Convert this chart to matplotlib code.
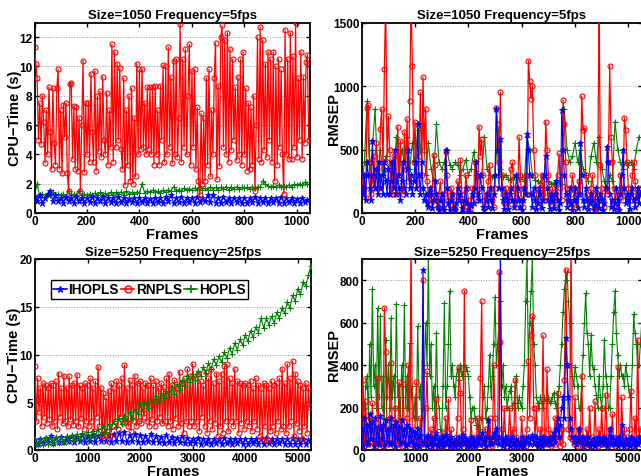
import numpy as np
import matplotlib
matplotlib.use("Agg")
import matplotlib.pyplot as plt
from matplotlib.lines import Line2D

plt.rcParams["font.family"] = ["Liberation Sans", "DejaVu Sans"]
plt.rcParams["font.weight"] = "bold"
plt.rcParams["axes.labelweight"] = "bold"
plt.rcParams["axes.titleweight"] = "bold"

BLUE = (0, 0, 1)
RED = (1, 0, 0)
GREEN = (0, 0.5, 0)

# -----------------------------
# Size=1050, 5fps : CPU time (s)
# -----------------------------
TL_STEP_RED = 5
TL_STEP = 10
tl_rnpls = [
    11.3, 10.2, 9.2, 5.0, 7.5, 4.7, 8.0, 6.2, 3.4, 7.0,
    4.0, 8.6, 5.5, 3.0, 8.5, 4.8, 3.3, 8.5, 9.8, 3.0,
    7.0, 2.7, 7.4, 5.2, 7.5, 2.7, 1.5, 8.8, 8.9, 3.7,
    7.3, 3.0, 7.2, 2.9, 6.5, 1.5, 6.0, 10.4, 2.8, 7.5,
    4.0, 7.5, 3.5, 9.5, 5.5, 3.5, 9.7, 2.9, 8.0, 4.2,
    8.3, 3.8, 9.3, 5.0, 4.0, 8.2, 3.3, 7.0, 4.5, 11.5,
    3.5, 11.0, 4.5, 10.2, 5.0, 9.9, 4.4, 3.0, 9.2, 1.9,
    7.0, 3.3, 8.0, 2.2, 8.5, 2.0, 6.5, 2.5, 10.2, 4.0,
    9.8, 4.4, 9.8, 4.5, 7.5, 4.0, 8.6, 4.4, 8.6, 4.0,
    8.6, 3.3, 8.7, 4.0, 7.0, 3.3, 8.7, 5.0, 10.1, 3.5,
    10.0, 4.0, 11.3, 4.5, 9.3, 3.4, 10.4, 4.0, 10.5, 3.8,
    6.5, 12.9, 3.5, 10.5, 4.5, 11.2, 4.0, 8.0, 11.5, 3.3,
    9.7, 4.5, 9.8, 3.0, 7.2, 2.2, 1.2, 6.8, 2.0, 6.5,
    2.2, 9.2, 3.3, 9.8, 2.5, 7.0, 4.0, 9.2, 11.6, 2.3,
    8.7, 3.2, 12.0, 12.8, 4.5, 11.8, 4.0, 12.3, 3.5, 11.2,
    4.3, 10.5, 5.0, 8.6, 3.6, 9.3, 4.0, 10.5, 3.3, 11.0,
    4.0, 8.5, 2.9, 7.5, 3.0, 7.2, 3.3, 8.0, 1.5, 6.0,
    12.0, 3.7, 12.7, 3.5, 11.8, 4.3, 10.2, 3.8, 11.0, 5.0,
    10.5, 3.5, 11.0, 2.2, 10.0, 3.3, 10.5, 4.5, 9.8, 4.0,
    1.3, 12.5, 4.0, 10.5, 3.7, 12.3, 3.7, 10.7, 4.5, 13.0,
    3.8, 9.2, 5.0, 11.0, 3.7, 9.3, 4.8, 10.3, 10.8, 5.0,
]
tl_ihopls = [
    1.1, 0.8, 1.2, 0.7, 1.0, 1.3, 1.5, 0.8, 1.2, 0.8,
    1.0, 0.7, 1.1, 0.8, 1.0, 0.7, 1.1, 0.8, 1.0, 0.7,
    1.0, 0.75, 1.1, 0.7, 1.0, 0.8, 1.1, 0.7, 1.0, 0.75,
    1.0, 0.7, 1.1, 0.75, 1.0, 0.7, 0.95, 0.75, 1.0, 0.7,
    1.0, 0.75, 1.05, 0.7, 0.95, 0.7, 1.0, 0.75, 1.0, 0.7,
    1.1, 0.8, 1.2, 0.7, 1.0, 0.75, 1.1, 0.7, 1.05, 0.75,
    1.0, 0.7, 1.1, 0.75, 1.0, 0.8, 1.2, 0.75, 1.25, 0.7,
    1.0, 0.7, 1.1, 0.75, 1.0, 0.7, 1.05, 0.75, 1.0, 0.7,
    1.05, 0.7, 1.0, 0.75, 1.1, 0.7, 1.0, 0.75, 1.0, 0.7,
    1.0, 0.75, 1.05, 0.7, 1.1, 0.7, 1.0, 0.75, 1.0, 0.7,
    0.95, 0.7, 1.0, 0.75, 0.9,
]
tl_hopls = [
    1.2, 2.0, 1.1, 1.3, 1.1, 1.3, 1.2, 1.4, 1.1, 1.3,
    1.2, 1.3, 1.1, 1.5, 1.2, 1.3, 1.2, 1.5, 1.2, 1.3,
    1.2, 1.3, 1.25, 1.35, 1.2, 1.4, 1.25, 1.35, 1.2, 1.4,
    1.25, 1.4, 1.3, 1.45, 1.25, 1.5, 1.3, 1.4, 1.3, 1.45,
    1.35, 2.0, 1.35, 1.5, 1.4, 1.55, 1.4, 1.5, 1.35, 1.55,
    1.4, 1.6, 1.5, 1.8, 1.5, 1.6, 1.5, 1.7, 1.55, 1.65,
    1.6, 1.7, 1.55, 1.75, 1.6, 1.7, 1.6, 1.8, 1.6, 1.75,
    1.6, 1.75, 1.65, 1.8, 1.6, 1.75, 1.65, 1.8, 1.65, 1.75,
    1.7, 1.75, 1.65, 1.8, 1.7, 1.8, 1.75, 2.2, 2.0, 1.85,
    1.8, 1.85, 1.75, 1.9, 1.8, 1.85, 1.8, 1.9, 1.8, 1.95,
    1.9, 2.0, 1.9, 2.1, 2.0,
]

# -----------------------------
# Size=1050, 5fps : RMSEP
# -----------------------------
tr_rnpls = [
    150, 300, 200, 120, 830, 850, 400, 150, 300, 200,
    450, 550, 300, 200, 660, 820, 350, 1130, 1700, 400,
    760, 500, 200, 150, 450, 250, 150, 680, 300, 570,
    200, 150, 640, 350, 740, 250, 880, 1700, 1160, 400,
    720, 300, 200, 450, 950, 300, 1070, 500, 820, 250,
    150, 100, 80, 200, 460, 380, 100, 50, 150, 250,
    100, 40, 150, 480, 300, 100, 60, 200, 150, 50,
    30, 100, 250, 200, 420, 150, 80, 20, 300, 200,
    100, 30, 60, 200, 150, 400, 300, 100, 680, 450,
    580, 300, 100, 60, 150, 250, 380, 200, 100, 50,
    200, 830, 700, 400, 950, 300, 150, 80, 200, 150,
    50, 100, 350, 400, 200, 100, 50, 150, 600, 300,
    100, 50, 200, 300, 150, 1200, 1040, 900, 1000, 500,
    300, 150, 50, 100, 200, 300, 150, 100, 720, 500,
    300, 150, 60, 200, 100, 50, 150, 300, 470, 200,
    100, 890, 700, 400, 200, 100, 50, 150, 300, 200,
    100, 50, 150, 250, 150, 920, 650, 670, 300, 150,
    100, 50, 200, 300, 150, 50, 30, 150, 1700, 380,
    200, 100, 50, 200, 150, 400, 1160, 600, 400, 200,
    100, 50, 30, 150, 300, 200, 100, 750, 650, 400,
    200, 100, 150, 300, 400, 250, 100, 150, 200, 150,
]
tr_ihopls = [
    200, 150, 300, 100, 400, 300, 200, 100, 570, 300,
    200, 350, 150, 400, 200, 300, 150, 400, 250, 150,
    350, 150, 250, 400, 200, 500, 150, 300, 200, 100,
    250, 400, 200, 150, 350, 500, 200, 300, 150, 250,
    400, 200, 700, 300, 150, 400, 200, 100, 150, 80,
    50, 200, 150, 40, 100, 250, 150, 50, 20, 100,
    150, 50, 20, 500, 200, 80, 20, 100, 150, 40,
    20, 80, 200, 100, 150, 40, 10, 100, 200, 80,
    20, 10, 60, 150, 80, 200, 400, 150, 100, 300,
    200, 50, 20, 100, 150, 50, 200, 100, 40, 150,
    300, 820, 500, 200, 580, 200, 100, 30, 150, 100,
    30, 150, 200, 100, 50, 100, 300, 200, 100, 50,
    20, 100, 200, 150, 620, 500, 300, 150, 50, 200,
    100, 30, 80, 200, 150, 40, 100, 300, 450, 200,
    100, 30, 150, 100, 40, 150, 250, 100, 20, 80,
    810, 500, 300, 150, 50, 100, 200, 80, 20, 100,
    200, 100, 40, 150, 550, 300, 100, 50, 200, 100,
    30, 80, 150, 100, 20, 60, 200, 100, 40, 150,
    100, 20, 80, 200, 520, 400, 150, 50, 100, 30,
    80, 200, 100, 20, 150, 300, 500, 200, 80, 150,
    100, 30, 150, 200, 100, 50, 120, 200, 80, 150,
]
tr_hopls = [
    200, 400, 880, 300, 500, 820, 300, 500, 300, 450,
    350, 400, 250, 600, 300, 500, 400, 600, 350, 550,
    400, 650, 500, 700, 300, 550, 350, 250, 700, 400,
    350, 400, 500, 380, 350, 400, 380, 300, 350, 420,
    300, 350, 480, 330, 280, 300, 600, 350, 300, 280,
    300, 650, 350, 280, 300, 270, 260, 280, 300, 270,
    280, 250, 600, 500, 300, 260, 250, 240, 280, 300,
    250, 230, 240, 220, 250, 230, 820, 500, 400, 450,
    550, 400, 500, 350, 300, 250, 450, 550, 400, 600,
    350, 250, 200, 300, 250, 720, 500, 400, 350, 400,
    380, 400, 350, 500, 600,
]

# -----------------------------
# Size=5250, 25fps : CPU time (s)
# -----------------------------
B_STEP_RED = 25
B_STEP = 50
bl_rnpls = [
    8.8, 3.0, 7.5, 4.0, 6.5, 2.5, 7.0, 3.5, 6.8, 2.8,
    6.5, 3.2, 7.0, 2.5, 6.8, 3.0, 7.2, 2.2, 8.0, 3.5,
    6.5, 2.8, 7.8, 3.0, 6.5, 2.5, 7.7, 3.2, 6.8, 2.6,
    7.0, 3.0, 7.9, 2.5, 6.8, 3.3, 6.5, 2.2, 7.0, 3.0,
    6.8, 2.5, 7.5, 3.0, 6.5, 2.0, 7.2, 3.5, 8.7, 2.5,
    6.5, 1.5, 6.0, 1.2, 5.5, 2.0, 6.2, 1.5, 7.0, 2.5,
    6.5, 3.0, 7.2, 2.2, 6.8, 3.5, 7.5, 2.8, 8.9, 3.0,
    6.5, 2.5, 7.3, 2.0, 6.8, 3.0, 7.8, 2.5, 7.0, 3.0,
    7.2, 2.8, 6.5, 3.5, 7.0, 3.0, 6.8, 2.5, 7.5, 3.2,
    6.8, 2.5, 7.2, 3.0, 6.5, 3.5, 7.0, 2.8, 6.6, 3.0,
    7.5, 2.5, 8.0, 3.0, 6.8, 2.2, 7.3, 3.3, 6.5, 2.5,
    8.2, 2.8, 7.0, 1.8, 7.5, 3.0, 8.5, 2.5, 7.8, 3.0,
    9.0, 2.5, 7.5, 3.0, 8.0, 2.0, 7.2, 3.5, 6.8, 2.5,
    8.2, 1.8, 7.5, 3.0, 8.5, 2.2, 7.0, 2.8, 8.0, 1.5,
    7.2, 2.5, 8.0, 1.8, 8.8, 3.0, 9.0, 2.0, 7.5, 3.0,
    7.0, 2.5, 8.5, 3.0, 7.2, 1.8, 7.0, 2.8, 6.8, 2.2,
    7.0, 3.0, 6.8, 2.5, 7.2, 2.0, 6.5, 3.0, 7.5, 2.2,
    6.8, 1.5, 6.5, 1.2, 7.0, 2.5, 6.8, 1.0, 6.5, 2.0,
    7.2, 2.5, 6.8, 1.8, 7.0, 3.0, 7.5, 2.2, 8.5, 2.5,
    7.0, 1.8, 9.0, 2.5, 7.5, 3.0, 9.3, 1.5, 8.0, 2.8,
    7.2, 2.0, 6.8, 1.2, 6.5, 2.5, 7.0, 1.8, 6.5, 4.5,
]
bl_ihopls = [
    1.0, 0.6, 1.2, 0.7, 1.3, 0.8, 1.5, 0.7, 1.3, 0.8,
    1.4, 0.8, 1.3, 0.9, 1.5, 0.8, 1.4, 0.9, 1.6, 0.8,
    1.5, 0.9, 1.6, 0.8, 1.5, 0.9, 1.7, 0.9, 1.6, 0.8,
    1.7, 0.9, 1.8, 0.9, 1.9, 0.8, 1.6, 0.9, 1.7, 0.8,
    1.6, 0.8, 1.5, 0.9, 1.7, 0.8, 1.5, 0.8, 1.4, 0.7,
    1.6, 0.8, 1.4, 0.7, 1.3, 0.8, 1.5, 0.7, 1.3, 0.7,
    1.2, 0.7, 1.3, 0.6, 1.2, 0.7, 1.1, 0.6, 1.2, 0.7,
    1.1, 0.6, 1.3, 0.7, 1.1, 0.6, 1.2, 0.7, 1.1, 0.6,
    1.2, 0.6, 1.1, 0.7, 1.2, 0.6, 1.1, 0.6, 1.3, 0.7,
    1.1, 0.6, 1.2, 0.7, 1.1, 0.6, 1.2, 0.6, 1.3, 0.6,
    1.1, 0.6, 1.2, 0.6, 1.0,
]
bl_hopls = [
    1.1, 0.5, 1.2, 0.5, 1.3, 0.6, 1.3, 0.6, 1.4, 0.7,
    1.4, 0.8, 1.5, 0.9, 1.6, 1.0, 1.7, 1.1, 1.8, 1.2,
    1.9, 1.3, 2.0, 1.5, 2.2, 1.7, 2.5, 1.9, 2.7, 2.2,
    3.0, 2.4, 3.3, 2.7, 3.6, 3.0, 4.0, 3.4, 4.3, 3.8,
    4.8, 4.1, 5.0, 4.4, 5.3, 4.7, 5.7, 5.0, 6.0, 5.4,
    6.2, 5.6, 6.6, 5.9, 6.9, 6.3, 7.3, 6.7, 7.7, 7.1,
    8.0, 7.3, 8.3, 7.7, 8.7, 8.1, 9.1, 8.5, 9.5, 8.9,
    9.8, 9.2, 10.3, 9.6, 10.7, 10.1, 11.2, 10.5, 11.6, 11.0,
    12.0, 11.4, 12.5, 11.8, 12.9, 12.3, 13.8, 12.8, 13.8, 13.1,
    14.0, 13.3, 14.4, 13.8, 14.9, 14.3, 15.5, 14.9, 16.2, 15.6,
    16.9, 16.3, 17.6, 17.2, 18.3, 19.3,
]

# -----------------------------
# Size=5250, 25fps : RMSEP
# -----------------------------
br_rnpls = [
    40, 330, 20, 230, 50, 30, 150, 40, 220, 30,
    60, 20, 340, 50, 30, 100, 20, 670, 460, 40,
    30, 150, 410, 40, 20, 200, 60, 30, 320, 40,
    20, 310, 80, 30, 150, 400, 30, 1000, 50, 20,
    100, 320, 40, 20, 150, 60, 800, 30, 200, 370,
    50, 20, 100, 30, 150, 40, 240, 20, 60, 30,
    20, 80, 30, 150, 40, 240, 20, 100, 30, 40,
    20, 60, 150, 390, 270, 40, 100, 750, 50, 20,
    40, 20, 140, 30, 60, 20, 40, 150, 30, 340,
    700, 50, 20, 100, 30, 60, 150, 30, 20, 400,
    150, 40, 60, 840, 510, 100, 30, 200, 40, 20,
    60, 200, 30, 100, 20, 330, 60, 30, 40, 20,
    150, 30, 60, 20, 100, 420, 150, 540, 630, 200,
    60, 200, 30, 20, 100, 40, 540, 60, 30, 380,
    100, 30, 20, 80, 40, 150, 30, 270, 60, 20,
    100, 30, 330, 850, 400, 100, 60, 1000, 50, 30,
    250, 40, 20, 100, 30, 350, 60, 20, 40, 100,
    30, 200, 20, 60, 30, 230, 40, 20, 100, 30,
    200, 40, 30, 260, 60, 20, 100, 40, 170, 30,
    20, 60, 390, 50, 30, 250, 40, 100, 20, 60,
    30, 100, 280, 40, 20, 150, 30, 520, 60, 100,
]
br_ihopls = [
    100, 20, 150, 40, 120, 30, 170, 50, 130, 20,
    150, 40, 110, 30, 160, 50, 120, 20, 140, 40,
    100, 30, 150, 40, 120, 20, 130, 50, 110, 30,
    140, 40, 100, 20, 120, 30, 100, 40, 90, 20,
    80, 30, 100, 20, 70, 40, 850, 30, 60, 20,
    70, 30, 50, 20, 60, 30, 80, 20, 50, 30,
    60, 20, 40, 70, 30, 50, 20, 60, 30, 40,
    20, 50, 30, 60, 20, 40, 70, 30, 50, 20,
    40, 20, 60, 30, 50, 20, 40, 60, 30, 50,
    80, 30, 50, 20, 60, 140, 40, 30, 60, 80,
    40, 100, 60, 30, 1000, 50, 20, 40, 60, 30,
    50, 20, 40, 60, 30, 20, 50, 40, 30, 20,
    60, 30, 20, 50, 40, 60, 30, 50, 70, 30,
    40, 60, 20, 30, 50, 20, 60, 40, 30, 50,
    40, 60, 30, 50, 80, 40, 100, 150, 60, 120,
    200, 250, 150, 530, 400, 250, 150, 100, 60, 40,
    60, 30, 50, 100, 40, 60, 20, 50, 30, 40,
    60, 20, 40, 30, 50, 20, 40, 60, 30, 50,
    40, 60, 30, 50, 20, 40, 100, 30, 60, 40,
    30, 50, 20, 60, 30, 120, 40, 20, 50, 30,
    40, 20, 60, 30, 50, 20, 40, 30, 60, 40,
]
br_hopls = [
    100, 150, 200, 300, 350, 150, 500, 250, 758, 300,
    400, 200, 668, 250, 630, 200, 350, 150, 518, 250,
    400, 200, 620, 250, 350, 200, 690, 250, 300, 150,
    400, 250, 684, 200, 350, 200, 502, 250, 300, 150,
    250, 150, 583, 250, 300, 150, 200, 350, 600, 400,
    900, 350, 500, 200, 300, 150, 550, 250, 200, 100,
    70, 300, 692, 200, 300, 500, 749, 350, 400, 300,
    250, 350, 380, 330, 400, 350, 370, 400, 390, 370,
    350, 250, 150, 200, 200, 150, 120, 100, 75, 100,
    150, 250, 300, 150, 200, 300, 450, 250, 350, 500,
    720, 400, 500, 600, 700, 300, 400, 250, 300, 200,
    250, 280, 300, 200, 220, 250, 350, 200, 250, 220,
    200, 300, 400, 700, 900, 400, 600, 750, 900, 500,
    400, 250, 220, 200, 250, 220, 200, 250, 230, 240,
    250, 220, 230, 250, 270, 220, 200, 250, 300, 400,
    500, 650, 760, 800, 840, 700, 600, 400, 350, 300,
    390, 350, 300, 200, 200, 300, 450, 600, 740, 550,
    500, 350, 540, 400, 380, 300, 260, 200, 350, 250,
    200, 300, 520, 350, 300, 200, 200, 350, 500, 650,
    750, 550, 450, 350, 400, 350, 350, 300, 400, 350,
    300, 250, 250, 400, 640, 550, 500, 400, 400, 500, 600,
]

LABELS = ["IHOPLS", "RNPLS", "HOPLS"]


def draw(ax, step, vals, kind, z):
    x = np.arange(len(vals)) * step
    if kind == "IHOPLS":
        ax.plot(x, vals, color=BLUE, lw=0.8, marker="*", ms=4.5, mew=0.6, zorder=z)
    elif kind == "RNPLS":
        ax.plot(x, vals, color=RED, lw=0.9, marker="o", ms=3.6, mfc="none",
                mew=0.8, zorder=z)
    else:
        ax.plot(x, vals, color=GREEN, lw=0.8, marker="+", ms=4.5, mew=0.8, zorder=z)


def style(ax, xmax, ymax, yticks, xticks, title, ylabel, ylab_x):
    ax.set_xlim(0, xmax)
    ax.set_ylim(0, ymax)
    ax.set_xticks(xticks)
    ax.set_yticks(yticks)
    ax.tick_params(direction="in", length=3, width=1, pad=1.5, top=True,
                   right=True, labelsize=8.5)
    for lab in ax.get_xticklabels() + ax.get_yticklabels():
        lab.set_fontweight("bold")
    for sp in ax.spines.values():
        sp.set_linewidth(1.3)
    ax.grid(axis="y", linestyle=":", color="#999999", lw=0.7)
    ax.set_axisbelow(True)
    ax.set_title(title, fontsize=9.5, pad=3)
    ax.set_xlabel("Frames", fontsize=10.5, labelpad=0)
    ax.set_ylabel(ylabel, fontsize=10.5)
    ax.yaxis.set_label_coords(ylab_x, 0.5)


fig = plt.figure(figsize=(6.41, 4.77), dpi=100)
W, H = 641.0, 477.0

ax1 = fig.add_axes([34.5 / W, (H - 214) / H, 275.5 / W, 190.5 / H])
draw(ax1, TL_STEP, tl_hopls, "HOPLS", 2)
draw(ax1, TL_STEP, tl_ihopls, "IHOPLS", 3)
draw(ax1, TL_STEP_RED, tl_rnpls, "RNPLS", 4)
style(ax1, 1050, 13, np.arange(0, 13, 2), np.arange(0, 1001, 200),
      "Size=1050 Frequency=5fps", "CPU\u2212Time (s)", -0.045)

ax2 = fig.add_axes([361.7 / W, (H - 214) / H, 280 / W, 190.5 / H])
draw(ax2, TL_STEP, tr_hopls, "HOPLS", 2)
draw(ax2, TL_STEP_RED, tr_rnpls, "RNPLS", 3)
draw(ax2, TL_STEP_RED, tr_ihopls, "IHOPLS", 4)
style(ax2, 1050, 1500, [0, 500, 1000, 1500], np.arange(0, 1001, 200),
      "Size=1050 Frequency=5fps", "RMSEP", -0.075)

ax3 = fig.add_axes([35 / W, (H - 451) / H, 276 / W, 191 / H])
draw(ax3, B_STEP, bl_ihopls, "IHOPLS", 2)
draw(ax3, B_STEP_RED, bl_rnpls, "RNPLS", 3)
draw(ax3, B_STEP, bl_hopls, "HOPLS", 4)
style(ax3, 5250, 20, [0, 5, 10, 15, 20], np.arange(0, 5001, 1000),
      "Size=5250 Frequency=25fps", "CPU\u2212Time (s)", -0.052)

ax4 = fig.add_axes([361.7 / W, (H - 451) / H, 280 / W, 191 / H])
draw(ax4, B_STEP_RED, br_hopls, "HOPLS", 2)
draw(ax4, B_STEP_RED, br_rnpls, "RNPLS", 3)
draw(ax4, B_STEP_RED, br_ihopls, "IHOPLS", 4)
style(ax4, 5250, 900, np.arange(0, 801, 200), np.arange(0, 5001, 1000),
      "Size=5250 Frequency=25fps", "RMSEP", -0.075)

handles = [
    Line2D([], [], color=BLUE, lw=1.2, marker="*", ms=5, mew=0.8),
    Line2D([], [], color=RED, lw=1.2, marker="o", ms=5, mfc="none", mew=1),
    Line2D([], [], color=GREEN, lw=1.2, marker="+", ms=6, mew=1.2),
]
leg = ax3.legend(handles, LABELS, ncol=3, loc="upper left",
                 bbox_to_anchor=(0.057, 0.892), fontsize=9.8,
                 frameon=True, fancybox=False, framealpha=1, edgecolor="black",
                 borderpad=0.2, handlelength=1.0, handletextpad=0.1,
                 columnspacing=0.15, borderaxespad=0)
leg.get_frame().set_linewidth(1.0)
for t in leg.get_texts():
    t.set_fontweight("bold")

fig.savefig("out.png", dpi=100)
